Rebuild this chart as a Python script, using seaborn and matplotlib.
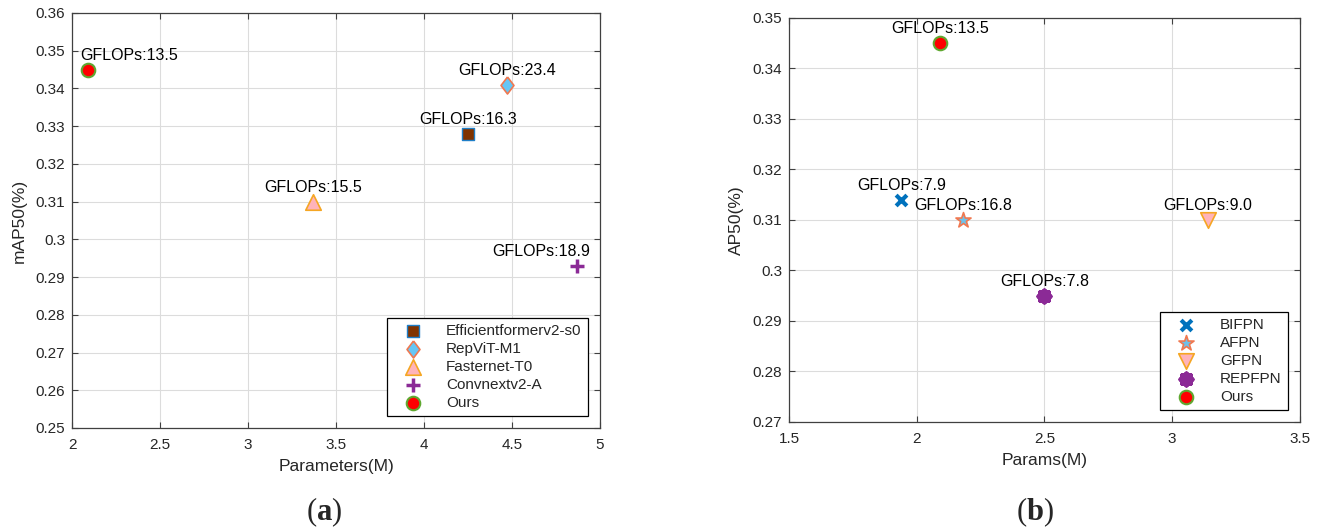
import matplotlib
matplotlib.use("Agg")
import matplotlib.pyplot as plt
import seaborn as sns
import numpy as np

# (a) backbone comparison
left_models = ['Efficientformerv2-s0', 'RepViT-M1', 'Fasternet-T0', 'Convnextv2-A', 'Ours']
left_params = [4.25, 4.47, 3.37, 4.87, 2.09]
left_map50 = [0.328, 0.341, 0.310, 0.293, 0.345]
left_gflops = [16.3, 23.4, 15.5, 18.9, 13.5]

# (b) neck comparison
right_models = ['BIFPN', 'AFPN', 'GFPN', 'REPFPN', 'Ours']
right_params = [1.94, 2.18, 3.14, 2.50, 2.09]
right_ap50 = [0.314, 0.310, 0.310, 0.295, 0.345]
right_gflops = [7.9, 16.8, 9.0, 7.8, 13.5]

sns.set_style("white")
plt.rcParams['font.family'] = ['Liberation Sans', 'DejaVu Sans']
plt.rcParams['mathtext.fontset'] = 'custom'
plt.rcParams['mathtext.rm'] = 'Liberation Serif'
plt.rcParams['mathtext.bf'] = 'Liberation Serif:bold'

tall_diamond = [(0, 1), (0.76, 0), (0, -1), (-0.76, 0), (0, 1)]

# marker, size, face, edge, linewidth
left_styles = [
    ('s', 70, '#803300', '#1F7FC8', 1.0),
    (tall_diamond, 150, '#66C6F5', '#F07850', 1.2),
    ('^', 125, '#FFB3BA', '#F5A623', 1.2),
    ('+', 110, '#8B2A96', None, 2.5),
    ('o', 95, '#FF0000', '#5FA830', 1.5),
]
right_styles = [
    ('x', 60, '#0072BD', None, 3.0),
    ('*', 130, '#6EC1EA', '#F07850', 1.2),
    ('v', 125, '#FFB3BA', '#F5A623', 1.2),
    ((8, 2, 0), 65, '#8B2A96', None, 3.5),
    ('o', 95, '#FF0000', '#5FA830', 1.5),
]

left_dx = [0, 0, 0, -26, 30]
right_dx = [0, 0, 0, 0, 0]

fig = plt.figure(figsize=(13.22, 5.30), dpi=100)
ax1 = fig.add_axes([0.0545, 0.1925, 0.3994, 0.783])
ax2 = fig.add_axes([0.5968, 0.2038, 0.3865, 0.7623])


def draw_panel(ax, models, xs, ys, gflops, styles, dxs):
    for name, x, y, style in zip(models, xs, ys, styles):
        marker, size, face, edge, lw = style
        kw = dict(marker=marker, s=size, color=face, linewidth=lw)
        if edge is not None:
            kw['edgecolor'] = edge
        sns.scatterplot(x=[x], y=[y], ax=ax, label=name, zorder=3, **kw)
    for x, y, g, dx in zip(xs, ys, gflops, dxs):
        ax.annotate('GFLOPs:%.1f' % g, (x, y), xytext=(dx, 7), textcoords='offset points',
                    ha='center', va='baseline', fontsize=11.5, color='black')


def style_axes(ax, xlim, ylim, xstep, ystep, xlabel, ylabel):
    ax.set_xlim(*xlim)
    ax.set_ylim(*ylim)
    xt = np.arange(xlim[0], xlim[1] + 1e-9, xstep)
    yt = np.arange(ylim[0], ylim[1] + 1e-9, ystep)
    ax.set_xticks(xt)
    ax.set_yticks(yt)
    ax.set_xticklabels(['%g' % round(v, 2) for v in xt])
    ax.set_yticklabels(['%g' % round(v, 2) for v in yt])
    ax.grid(True, color='#DCDCDC', linewidth=0.8)
    ax.set_axisbelow(True)
    for sp in ax.spines.values():
        sp.set_color('#404040')
        sp.set_linewidth(0.9)
        sp.set_visible(True)
    ax.tick_params(direction='in', length=4, width=0.8, color='#404040', labelsize=11,
                   labelcolor='#262626', top=True, right=True, bottom=True, left=True)
    ax.tick_params(axis='y', pad=5)
    ax.tick_params(axis='x', pad=7)
    ax.set_xlabel(xlabel, fontsize=12.5, color='#262626', labelpad=5)
    ax.set_ylabel(ylabel, fontsize=12.5, color='#262626', labelpad=6)
    leg = ax.legend(loc='lower right', fontsize=11, frameon=True, fancybox=False,
                    framealpha=1, edgecolor='black', borderaxespad=0.8,
                    labelspacing=0.25, handletextpad=0.9, handlelength=2.6,
                    borderpad=0.4, scatterpoints=1)
    leg.get_frame().set_linewidth(0.9)


draw_panel(ax1, left_models, left_params, left_map50, left_gflops, left_styles, left_dx)
style_axes(ax1, (2, 5), (0.25, 0.36), 0.5, 0.01, 'Parameters(M)', 'mAP50(%)')

draw_panel(ax2, right_models, right_params, right_ap50, right_gflops, right_styles, right_dx)
style_axes(ax2, (1.5, 3.5), (0.27, 0.35), 0.5, 0.01, 'Params(M)', 'AP50(%)')

fig.text(324 / 1322, 1 - 512 / 530, r'($\mathbf{a}$)', ha='center', va='center',
         fontsize=22, family='Liberation Serif')
fig.text(1035 / 1322, 1 - 512 / 530, r'($\mathbf{b}$)', ha='center', va='center',
         fontsize=22, family='Liberation Serif')

fig.savefig('out.png', dpi=100, facecolor='white')
